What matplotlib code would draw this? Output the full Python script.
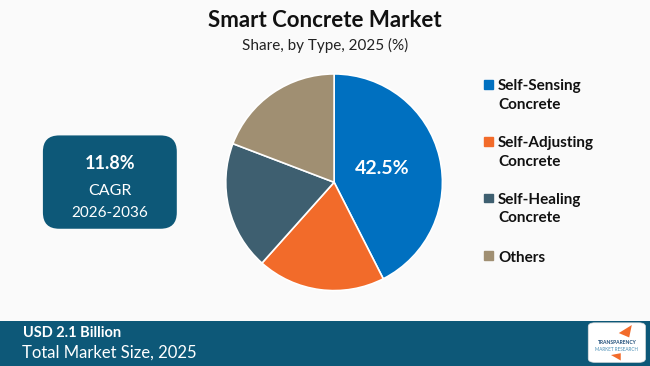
import matplotlib.pyplot as plt
from matplotlib.patches import FancyBboxPatch, Rectangle, Polygon

# Data
categories = ["Self-Sensing\nConcrete", "Self-Adjusting\nConcrete", "Self-Healing\nConcrete", "Others"]
shares = [42.5, 19.1, 19.2, 19.2]
colors = ["#0070C0", "#F26B2A", "#3E5F70", "#A08F72"]
title = "Smart Concrete Market"
subtitle = "Share, by Type, 2025 (%)"
cagr_value = "11.8%"
cagr_period = "2026-2036"
market_size = "USD 2.1 Billion"
market_label = "Total Market Size, 2025"

bg = "#FAFAFA"
teal = "#0D5878"

fig = plt.figure(figsize=(6.5, 3.66), dpi=100)
fig.patch.set_facecolor(bg)

# Title block
fig.text(0.5, 0.943, title, ha="center", va="center", fontsize=16,
         fontweight="bold", family="Lato", color="#111111")
fig.text(0.5, 0.877, subtitle, ha="center", va="center", fontsize=11,
         family="Lato", color="#222222")

# Pie
ax = fig.add_axes([0.344, 0.2, 0.34, 0.604])
wedges, _ = ax.pie(shares, colors=colors, startangle=90, counterclock=False,
                   radius=1, wedgeprops=dict(edgecolor="white", linewidth=1.2))
ax.set_xlim(-1.02, 1.02)
ax.set_ylim(-1.02, 1.02)
ax.set_aspect("equal")
ax.text(0.44, 0.13, f"{shares[0]}%", ha="center", va="center", fontsize=14,
        fontweight="bold", color="white", family="Lato")

# Legend
legend_y = [0.77, 0.615, 0.46, 0.302]
for cat, col, y in zip(categories, colors, legend_y):
    fig.patches.append(Rectangle((0.745, y - 0.013), 0.0135, 0.024,
                                 transform=fig.transFigure, color=col))
    fig.text(0.766, y + 0.013, cat, ha="left", va="top", fontsize=11,
             fontweight="bold", family="Lato", color="#111111",
             linespacing=1.4)

# CAGR box
box = FancyBboxPatch((0.066, 0.375), 0.206, 0.255,
                     boxstyle="round,pad=0,rounding_size=0.025",
                     transform=fig.transFigure, facecolor=teal, edgecolor="none",
                     mutation_aspect=650 / 366)
fig.patches.append(box)
fig.text(0.169, 0.553, cagr_value, ha="center", va="center", fontsize=13,
         fontweight="bold", color="white", family="Lato")
fig.text(0.169, 0.478, "CAGR", ha="center", va="center", fontsize=11.5,
         color="white", family="Lato")
fig.text(0.169, 0.418, cagr_period, ha="center", va="center", fontsize=11,
         color="white", family="Lato")

# Bottom band
fig.patches.append(Rectangle((0, 0), 1, 0.123, transform=fig.transFigure,
                             facecolor=teal, edgecolor="none"))
fig.text(0.036, 0.09, market_size, ha="left", va="center", fontsize=10.5,
         fontweight="bold", color="white", family="Lato")
fig.text(0.034, 0.036, market_label, ha="left", va="center", fontsize=12,
         color="white", family="Lato")

# Logo badge
fig.patches.append(FancyBboxPatch((0.905, 0.01), 0.088, 0.108,
                                  boxstyle="round,pad=0,rounding_size=0.01",
                                  transform=fig.transFigure, facecolor="white",
                                  edgecolor="#DDDDDD", linewidth=0.5))
fig.patches.append(Polygon([[0.952, 0.09], [0.972, 0.112], [0.968, 0.078]],
                           closed=True, transform=fig.transFigure,
                           facecolor="#F26B2A", edgecolor="none"))
fig.patches.append(Polygon([[0.94, 0.03], [0.955, 0.015], [0.955, 0.035]],
                           closed=True, transform=fig.transFigure,
                           facecolor="#F26B2A", edgecolor="none"))
fig.text(0.949, 0.064, "TRANSPARENCY", ha="center", va="center", fontsize=3.6,
         fontweight="bold", color="#1F4E79", family="Lato")
fig.text(0.949, 0.046, "MARKET RESEARCH", ha="center", va="center", fontsize=3.3,
         color="#4A8FB5", family="Lato")

fig.savefig("out.png", dpi=100, facecolor=bg)
